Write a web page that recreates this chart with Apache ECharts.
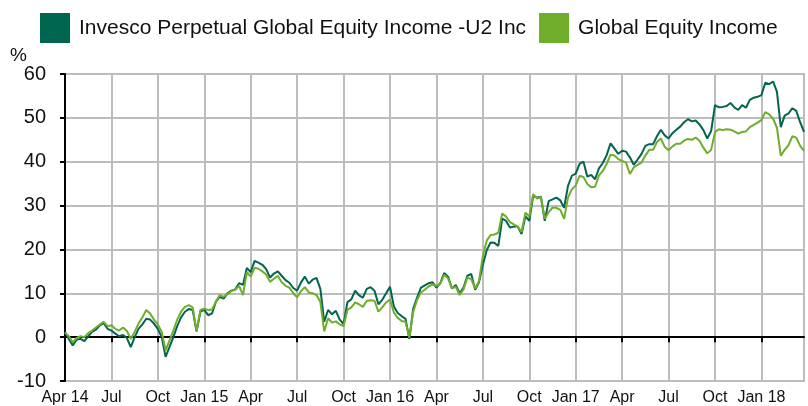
<!DOCTYPE html>
<html>
<head>
<meta charset="utf-8">
<script src="https://cdn.jsdelivr.net/npm/echarts@6/dist/echarts.min.js"></script>
<style>
  html, body { margin: 0; padding: 0; background: #fff; }
  #chart { width: 808px; height: 406px; }
</style>
</head>
<body>
<div id="chart"></div>
<script>
const fundName = "Invesco Perpetual Global Equity Income -U2 Inc";
const sectorName = "Global Equity Income";

// quarter labels, one every 3 months from Apr 2014
const tickLabels = ["Apr 14", "Jul", "Oct", "Jan 15", "Apr", "Jul", "Oct", "Jan 16",
  "Apr", "Jul", "Oct", "Jan 17", "Apr", "Jul", "Oct", "Jan 18"];

// cumulative % growth, read roughly weekly (4 points per month) from Apr 2014
const fundValues = [
  1.2, -0.4, -1.9, -0.6, -0.4, -0.9, 0.2, 1.2, 1.7, 2.7, 3.2, 1.9,
  1.5, 0.8, 0.2, 0.5, -0.2, -2.3, 0.0, 1.9, 2.9, 4.2, 4.0, 3.1,
  1.9, 0.0, -4.5, -2.3, 0.0, 2.5, 4.5, 5.8, 6.4, 6.2, 1.3, 5.8,
  6.2, 5.0, 5.4, 8.1, 9.2, 8.8, 10.0, 10.6, 10.9, 12.3, 11.9, 15.8,
  14.8, 17.4, 17.0, 16.5, 15.5, 13.6, 14.5, 15.0, 14.0, 13.0, 12.4, 11.2,
  10.6, 12.5, 13.8, 12.2, 13.1, 13.5, 11.0, 3.5, 6.2, 5.2, 6.0, 4.0,
  3.0, 8.0, 8.6, 10.6, 9.5, 9.0, 11.0, 11.4, 10.6, 7.5, 8.5, 10.0,
  11.5, 7.0, 5.5, 4.8, 4.2, -0.4, 6.5, 9.0, 11.3, 11.8, 12.3, 12.5,
  11.3, 12.3, 14.6, 13.8, 11.1, 11.9, 10.0, 11.3, 14.0, 14.4, 10.8, 12.5,
  16.5, 19.8, 21.6, 21.5, 20.8, 27.0, 26.5, 25.0, 25.2, 25.2, 23.5, 27.6,
  26.5, 32.2, 31.8, 32.0, 26.5, 31.0, 31.4, 31.8, 31.2, 29.5, 34.5, 36.8,
  37.3, 39.5, 40.0, 36.6, 37.0, 36.0, 38.5, 39.7, 41.5, 44.2, 43.0, 41.8,
  42.5, 42.3, 41.0, 39.3, 40.5, 41.8, 43.6, 44.0, 44.0, 45.8, 47.3, 46.0,
  45.3, 46.5, 47.3, 48.0, 49.0, 49.7, 49.2, 49.4, 48.5, 47.2, 45.3, 47.0,
  52.9, 52.4, 52.5, 52.7, 53.4, 52.4, 51.8, 52.9, 52.3, 54.1, 54.6, 54.8,
  55.2, 58.0, 57.7, 58.3, 56.0, 47.9, 50.5, 51.0, 52.2, 51.6, 49.0, 46.8
];
const sectorValues = [
  1.0, 0.2, -1.2, -0.2, 0.2, 0.0, 0.9, 1.5, 2.2, 2.9, 3.5, 2.5,
  2.7, 1.9, 1.5, 2.2, 1.4, -0.4, 1.2, 3.1, 4.5, 6.2, 5.4, 4.0,
  2.9, 1.2, -3.0, -0.8, 1.5, 4.0, 5.8, 6.9, 7.3, 6.8, 1.4, 6.2,
  6.5, 6.2, 6.3, 8.1, 9.6, 9.2, 9.8, 10.5, 10.8, 11.7, 9.6, 14.8,
  13.8, 15.8, 15.6, 15.0, 14.3, 12.6, 13.3, 14.0, 12.5, 11.7, 11.3, 10.0,
  9.1, 10.5, 11.4, 10.2, 10.0, 9.6, 8.0, 1.3, 4.3, 3.3, 3.6, 2.9,
  2.5, 6.2, 6.8, 7.9, 7.5, 6.9, 8.3, 8.4, 8.3, 5.8, 6.8, 7.9,
  8.6, 5.6, 4.4, 3.7, 3.5, -0.1, 5.8, 8.5, 10.2, 10.8, 11.6, 12.0,
  11.7, 12.2, 14.2, 13.4, 11.1, 11.5, 9.6, 10.9, 13.6, 13.2, 11.1, 12.8,
  18.5, 22.0, 23.3, 23.4, 23.8, 28.2, 27.5, 26.2, 25.7, 25.2, 24.0, 28.4,
  27.5, 32.6, 31.6, 32.0, 27.0, 28.5, 29.5, 29.5, 29.0, 27.0, 31.8, 33.7,
  34.6, 36.8, 36.5, 34.9, 34.2, 34.3, 36.9, 37.9, 39.5, 41.6, 41.4, 40.6,
  40.2, 39.8, 37.2, 38.7, 39.3, 39.8, 41.4, 42.7, 42.7, 44.5, 45.3, 43.4,
  42.6, 43.5, 44.1, 44.1, 44.8, 45.2, 45.0, 45.5, 44.8, 43.2, 41.9, 42.7,
  46.8, 47.4, 47.2, 47.4, 47.3, 46.9, 46.4, 46.8, 46.9, 47.9, 48.4, 48.9,
  49.5, 51.3, 50.8, 49.8, 47.8, 41.4, 42.7, 43.8, 45.8, 45.5, 43.6, 42.5
];

const pointsPerMonth = 4;
const fontFamily = "Liberation Sans, Arial, sans-serif";

let myChart = echarts.init(document.getElementById("chart"));

let option = {
  animation: false,
  color: ["#00664f", "#70ad2a"],
  textStyle: { fontFamily: fontFamily },
  legend: {
    left: 40,
    top: 13,
    padding: 0,
    itemWidth: 30,
    itemHeight: 30,
    itemGap: 13,
    icon: "rect",
    textStyle: { fontSize: 21, color: "#111", fontFamily: fontFamily, padding: [0, 0, 0, 4] },
    data: [fundName, sectorName]
  },
  graphic: [
    {
      type: "text",
      left: 10,
      top: 46,
      style: { text: "%", fontSize: 19, fontFamily: fontFamily, fill: "#111" }
    }
  ],
  grid: {
    left: 65,
    right: 4,
    top: 74,
    bottom: 24,
    show: true,
    borderColor: "#bdbdbd",
    borderWidth: 2
  },
  xAxis: {
    type: "value",
    min: 0,
    max: (fundValues.length - 1) / pointsPerMonth,
    interval: 3,
    axisLine: { lineStyle: { color: "#000", width: 2 } },
    axisTick: { show: true, length: 5, lineStyle: { color: "#000", width: 2 } },
    axisLabel: {
      fontSize: 16,
      color: "#111",
      margin: 9,
      showMaxLabel: false,
      formatter: function (value) {
        return value % 3 === 0 ? tickLabels[value / 3] || "" : "";
      }
    },
    splitLine: { show: true, lineStyle: { color: "#bdbdbd", width: 2 } }
  },
  yAxis: {
    type: "value",
    min: -10,
    max: 60,
    interval: 10,
    axisLine: { show: true, lineStyle: { color: "#000", width: 2 } },
    axisTick: { show: true, length: 5, lineStyle: { color: "#000", width: 2 } },
    axisLabel: { fontSize: 20, color: "#111", margin: 19 },
    splitLine: { show: true, lineStyle: { color: "#bdbdbd", width: 2 } }
  },
  series: [
    {
      name: fundName,
      type: "line",
      showSymbol: false,
      lineStyle: { width: 2 },
      data: fundValues.map((v, i) => [i / pointsPerMonth, v]),
      markLine: {
        silent: true,
        symbol: "none",
        label: { show: false },
        lineStyle: { color: "#000", width: 2, type: "solid" },
        data: [{ yAxis: 0 }],
        z: 1
      }
    },
    {
      name: sectorName,
      type: "line",
      showSymbol: false,
      lineStyle: { width: 2 },
      data: sectorValues.map((v, i) => [i / pointsPerMonth, v])
    }
  ]
};

myChart.setOption(option);
</script>
</body>
</html>
